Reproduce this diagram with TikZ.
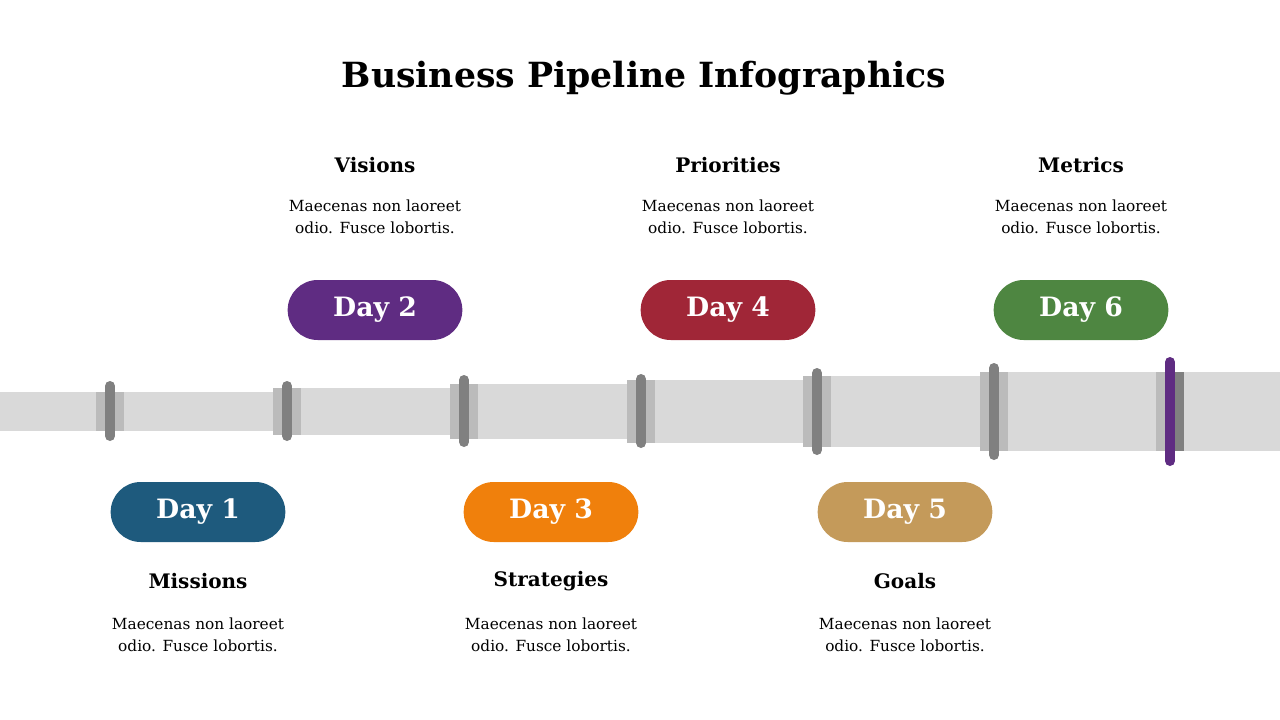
\documentclass[tikz,border=0pt]{standalone}
\usepackage{fontspec}
\setmainfont{DejaVu Serif}
\begin{document}
\begin{tikzpicture}[x=0.75pt,y=-0.75pt,
  pipe/.style={fill=pipegray,draw=none},
  collar/.style={fill=collargray,draw=none},
  ring/.style={draw=ringgray,line width=7.5pt,line cap=round},
  pill/.style={rounded corners=22.5pt,minimum width=131pt,minimum height=45pt,text=white,font=\bfseries\fontsize{20}{24}\selectfont,inner sep=0pt},
  head/.style={font=\bfseries\fontsize{15}{18}\selectfont},
  body/.style={font=\fontsize{11.5}{16.5}\selectfont,align=center}]
\definecolor{pipegray}{HTML}{D9D9D9}
\definecolor{collargray}{HTML}{BBBBBB}
\definecolor{ringgray}{HTML}{808080}
\definecolor{cA}{HTML}{1E5A7D}
\definecolor{cB}{HTML}{5F2C82}
\definecolor{cC}{HTML}{F0800C}
\definecolor{cD}{HTML}{A02637}
\definecolor{cE}{HTML}{C49A5A}
\definecolor{cF}{HTML}{4E8641}
\useasboundingbox (0,0) rectangle (1280,720);
\node[font=\bfseries\fontsize{26}{30}\selectfont] (title) at (644,78) {Business Pipeline Infographics};
% pipe segments
\fill[pipe] (0,392) rectangle (287,431);
\fill[pipe] (287,388) rectangle (464,435);
\fill[pipe] (464,384) rectangle (641,439);
\fill[pipe] (641,380) rectangle (817,443);
\fill[pipe] (817,376) rectangle (994,447);
\fill[pipe] (994,372) rectangle (1280,451);
% collars
\fill[collar] (96,392) rectangle (124,431);
\fill[collar] (273,388) rectangle (301,435);
\fill[collar] (450,384) rectangle (478,439);
\fill[collar] (627,380) rectangle (655,443);
\fill[collar] (803,376) rectangle (831,447);
\fill[collar] (980,372) rectangle (1008,451);
\fill[collar] (1156,372) rectangle (1170,451);
\fill[ringgray] (1170,372) rectangle (1184,451);
% rings
\draw[ring] (110,386) -- (110,436);
\draw[ring] (287,386) -- (287,436);
\draw[ring] (464,380) -- (464,442);
\draw[ring] (641,379) -- (641,443);
\draw[ring] (817,373) -- (817,450);
\draw[ring] (994,368) -- (994,455);
\draw[ring,draw=cB] (1170,362) -- (1170,461);
% pills
\node[pill,fill=cA] (d1) at (198,512) {Day 1};
\node[pill,fill=cB] (d2) at (375,310) {Day 2};
\node[pill,fill=cC] (d3) at (551,512) {Day 3};
\node[pill,fill=cD] (d4) at (728,310) {Day 4};
\node[pill,fill=cE] (d5) at (905,512) {Day 5};
\node[pill,fill=cF] (d6) at (1081,310) {Day 6};
% top texts
\node[head] (h2) at (375,165) {Visions};
\node[head] (h4) at (728,165) {Priorities};
\node[head] (h6) at (1081,165) {Metrics};
\node[body] (b2) at (375,217) {Maecenas non laoreet\\odio. Fusce lobortis.};
\node[body] (b4) at (728,217) {Maecenas non laoreet\\odio. Fusce lobortis.};
\node[body] (b6) at (1081,217) {Maecenas non laoreet\\odio. Fusce lobortis.};
% bottom texts
\node[head] (h1) at (198,581) {Missions};
\node[head] (h3) at (551,581) {Strategies};
\node[head] (h5) at (905,581) {Goals};
\node[body] (b1) at (198,635) {Maecenas non laoreet\\odio. Fusce lobortis.};
\node[body] (b3) at (551,635) {Maecenas non laoreet\\odio. Fusce lobortis.};
\node[body] (b5) at (905,635) {Maecenas non laoreet\\odio. Fusce lobortis.};
\end{tikzpicture}
\end{document}
